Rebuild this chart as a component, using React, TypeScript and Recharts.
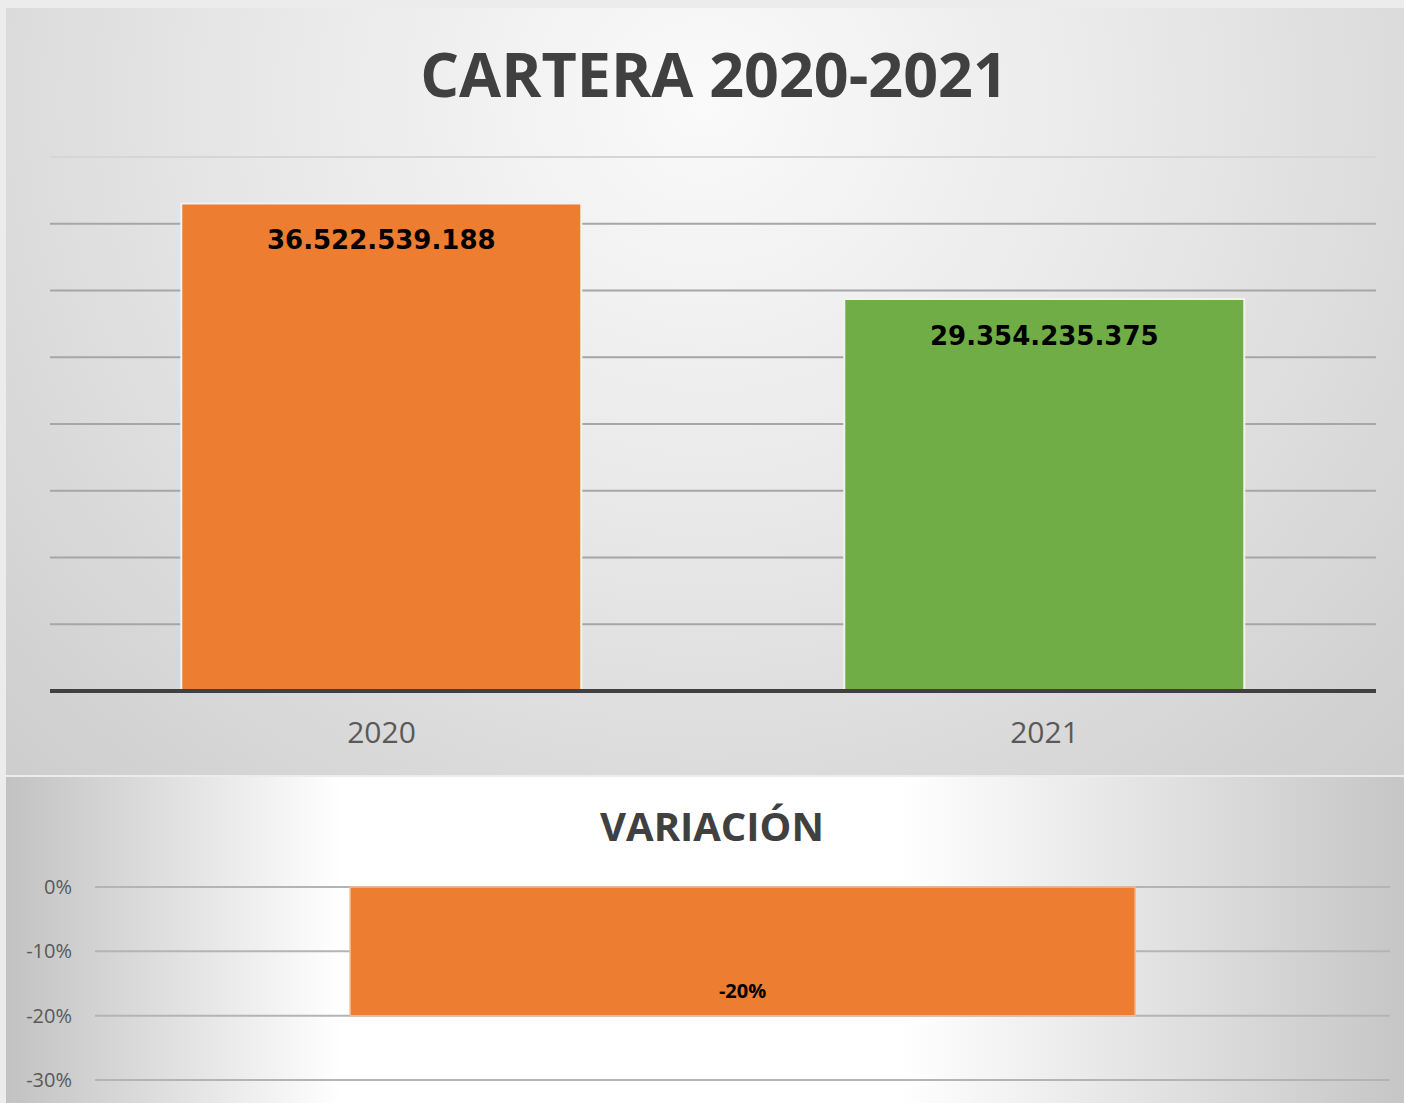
import { BarChart, Bar, XAxis, YAxis, CartesianGrid, Cell, LabelList } from "recharts";

const years = ["2020", "2021"];
const cartera = [36522539188, 29354235375];
const barColors = ["#ED7D31", "#70AD47"];
const carteraTicks = [0, 5e9, 10e9, 15e9, 20e9, 25e9, 30e9, 35e9, 40e9];

const variacionCats = ["Variación"];
const variacion = [-0.2];
const variacionTicks = [-0.3, -0.2, -0.1, 0];

const carteraData = years.map((y, i) => ({ year: y, value: cartera[i] }));
const variacionData = variacionCats.map((c, i) => ({ name: c, value: variacion[i] }));

function miles(v: number) {
  return String(Math.round(v)).replace(/\B(?=(\d{3})+(?!\d))/g, ".");
}

function pct(v: number) {
  return `${Math.round(v * 100)}%`;
}

function VarLabel(props: any) {
  const { x, y, width, height, value } = props;
  const bottom = Math.max(y, y + height);
  return (
    <text
      x={x + width / 2}
      y={bottom - 18}
      textAnchor="middle"
      fontFamily="'Open Sans'"
      fontWeight={700}
      fontSize={20}
      fill="#000"
    >
      {pct(value)}
    </text>
  );
}

// top gridline is drawn lighter, like the original
function GridLine(props: any) {
  const { x1, x2, y1, y2, offset } = props;
  const isTop = offset && Math.abs(y1 - offset.top) < 1;
  return <line x1={x1} x2={x2} y1={y1} y2={y2} stroke={isTop ? "#d6d6d6" : "#a6a6a6"} strokeWidth={2} />;
}

export default function App() {
  return (
    <div style={{ position: "absolute", left: 0, top: 0, width: 1404, height: 1103, background: "#ececec", overflow: "hidden" }}>
      {/* top panel */}
      <div
        style={{
          position: "absolute",
          left: 6,
          top: 8,
          width: 1398,
          height: 767,
          background: "radial-gradient(ellipse at 50% 12%, #fafafa 0%, #e8e8e8 45%, #cdcdcd 100%)",
        }}
      />
      <div
        style={{
          position: "absolute",
          left: 714,
          top: 43,
          transform: "translateX(-50%)",
          fontFamily: "'Open Sans'",
          fontWeight: 700,
          fontSize: 61,
          lineHeight: 1,
          color: "#404040",
          whiteSpace: "nowrap",
        }}
      >
        CARTERA 2020-2021
      </div>
      <div style={{ position: "absolute", left: 0, top: 0 }}>
        <BarChart
          width={1404}
          height={775}
          data={carteraData}
          margin={{ top: 157, right: 28, left: 50, bottom: 0 }}
          barCategoryGap="19.8%"
        >
          <CartesianGrid vertical={false} horizontal={GridLine} />
          <YAxis hide domain={[0, 40e9]} ticks={carteraTicks} />
          <XAxis
            dataKey="year"
            height={84}
            tickLine={false}
            tickSize={0}
            tickMargin={31}
            axisLine={{ stroke: "#404040", strokeWidth: 4 }}
            tick={{ fontSize: 30, fill: "#595959", fontFamily: "'Open Sans'" }}
          />
          <Bar dataKey="value" isAnimationActive={false} stroke="#f2f2f2" strokeWidth={2}>
            {carteraData.map((d, i) => (
              <Cell key={d.year} fill={barColors[i]} />
            ))}
            <LabelList
              dataKey="value"
              position="insideTop"
              offset={27}
              formatter={(v: any) => miles(Number(v))}
              style={{ fontSize: 26, fontWeight: 700, fill: "#000", fontFamily: "'DejaVu Sans'" }}
            />
          </Bar>
        </BarChart>
      </div>

      {/* bottom panel */}
      <div
        style={{
          position: "absolute",
          left: 6,
          top: 777,
          width: 1398,
          height: 326,
          background: "linear-gradient(to right, #c2c2c2 0%, #ffffff 24%, #ffffff 64%, #c6c6c6 100%)",
        }}
      />
      <div
        style={{
          position: "absolute",
          left: 712,
          top: 806,
          transform: "translateX(-50%)",
          fontFamily: "'Open Sans'",
          fontWeight: 700,
          fontSize: 40,
          lineHeight: 1,
          color: "#404040",
          whiteSpace: "nowrap",
        }}
      >
        VARIACIÓN
      </div>
      <div style={{ position: "absolute", left: 0, top: 777 }}>
        <BarChart
          width={1404}
          height={326}
          data={variacionData}
          margin={{ top: 110, right: 14, left: 15, bottom: 23 }}
          barCategoryGap="19.7%"
        >
          <CartesianGrid vertical={false} stroke="#b4b4b4" strokeWidth={2} />
          <XAxis dataKey="name" hide />
          <YAxis
            width={80}
            domain={[-0.3, 0]}
            ticks={variacionTicks}
            tickFormatter={pct}
            axisLine={false}
            tickLine={false}
            tickSize={0}
            tickMargin={23}
            tick={{ fontSize: 20, fill: "#595959", fontFamily: "'Open Sans'" }}
          />
          <Bar dataKey="value" fill="#ED7D31" stroke="#f6b98f" strokeWidth={1.5} isAnimationActive={false}>
            <LabelList dataKey="value" content={VarLabel} />
          </Bar>
        </BarChart>
      </div>
    </div>
  );
}
